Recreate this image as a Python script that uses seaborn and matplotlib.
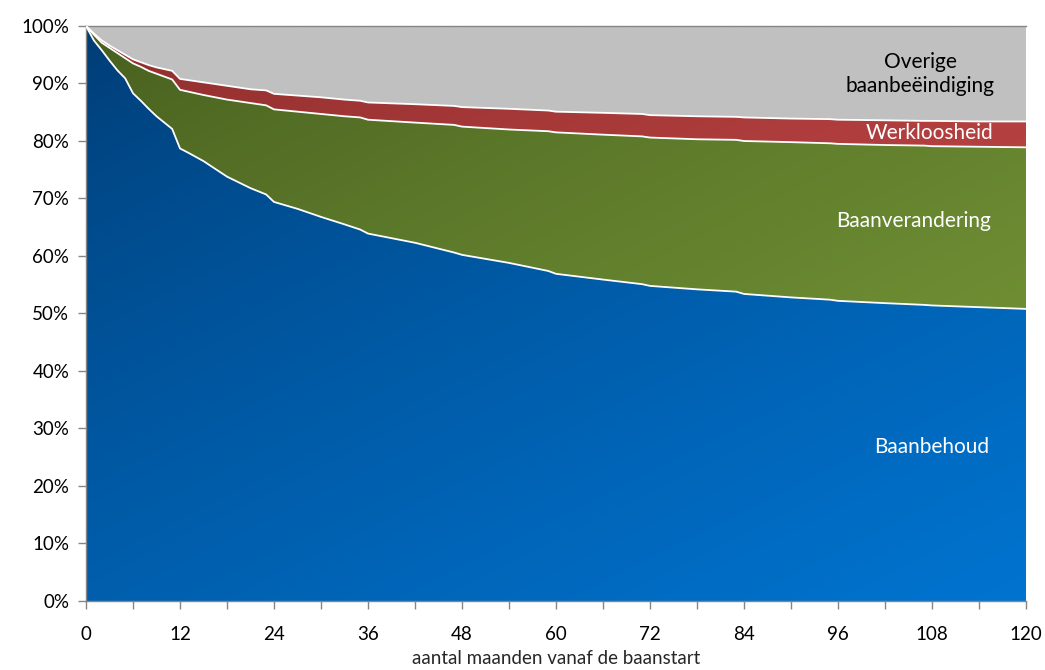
import numpy as np
import pandas as pd
import matplotlib
matplotlib.use("Agg")
import matplotlib.pyplot as plt
from matplotlib.colors import LinearSegmentedColormap
import seaborn as sns

# months since job start
months = [0, 1, 2, 3, 4, 5, 6, 7, 8, 9, 10, 11, 12, 13, 15, 18, 21, 23, 24, 27, 30, 33, 35, 36,
          42, 47, 48, 54, 59, 60, 66, 71, 72, 78, 83, 84, 90, 95, 96, 102, 107, 108, 114, 120]

# shares in % per category
baanbehoud = [100, 97.5, 95.8, 94.0, 92.3, 90.9, 88.3, 87.0, 85.6, 84.3, 83.2, 82.1, 78.7, 78.0,
              76.5, 73.8, 71.8, 70.7, 69.4, 68.2, 66.8, 65.5, 64.6, 63.9, 62.3, 60.6, 60.2, 58.8,
              57.4, 56.9, 55.9, 55.1, 54.8, 54.2, 53.8, 53.4, 52.8, 52.4, 52.2, 51.8, 51.5, 51.4,
              51.1, 50.8]
baanverandering = [0, 1.0, 1.3, 2.2, 3.0, 3.5, 5.2, 5.9, 6.6, 7.4, 8.0, 8.6, 10.2, 10.6, 11.5, 13.4,
                   14.8, 15.5, 16.1, 16.9, 17.9, 18.8, 19.5, 19.8, 20.9, 22.2, 22.3, 23.2, 24.3, 24.6,
                   25.2, 25.7, 25.8, 26.1, 26.4, 26.6, 27.0, 27.2, 27.3, 27.5, 27.7, 27.7, 27.9, 28.1]
werkloosheid = [0, 0.2, 0.4, 0.4, 0.5, 0.6, 0.7, 0.8, 1.0, 1.1, 1.3, 1.5, 1.9, 2.0, 2.2, 2.4, 2.4,
                2.6, 2.7, 2.8, 2.9, 2.9, 2.9, 3.0, 3.2, 3.3, 3.4, 3.6, 3.6, 3.6, 3.8, 3.9, 3.9, 4.0,
                4.0, 4.1, 4.1, 4.2, 4.2, 4.3, 4.3, 4.4, 4.4, 4.5]
overige = [0, 1.3, 2.5, 3.4, 4.2, 5.0, 5.8, 6.3, 6.8, 7.2, 7.5, 7.8, 9.2, 9.4, 9.8, 10.4, 11.0, 11.2,
           11.8, 12.1, 12.4, 12.8, 13.0, 13.3, 13.6, 13.9, 14.1, 14.4, 14.7, 14.9, 15.1, 15.3, 15.5,
           15.7, 15.8, 15.9, 16.1, 16.2, 16.3, 16.4, 16.5, 16.5, 16.6, 16.6]

series = ["Baanbehoud", "Baanverandering", "Werkloosheid", "Overige baanbeëindiging"]
gradients = [("#003c74", "#0074d0"),
             ("#465e1e", "#7a9c3a"),
             ("#8e2c2c", "#cc4c4c"),
             ("#c0c0c0", "#c0c0c0")]

df = pd.DataFrame({"maand": months, series[0]: baanbehoud, series[1]: baanverandering,
                   series[2]: werkloosheid, series[3]: overige})
cum = df[series].cumsum(axis=1)

sns.set_theme(style="white")
plt.rcParams["font.family"] = ["Lato", "DejaVu Sans"]

fig = plt.figure(figsize=(10.45, 6.7), dpi=100)
ax = fig.add_axes([0.0823, 0.103, 0.8995, 0.8582])

# diagonal gradient field (dark top-left -> light bottom-right)
gx, gy = np.meshgrid(np.linspace(0, 1, 300), np.linspace(1, 0, 300))
field = (0.45 * gx + 0.55 * (1 - gy)) ** 0.8

lower = np.zeros(len(months))
for name, (c0, c1) in zip(series, gradients):
    upper = cum[name].values
    poly = ax.fill_between(df["maand"], lower, upper, color="none", lw=0)
    cmap = LinearSegmentedColormap.from_list(name, [c0, c1])
    im = ax.imshow(field, cmap=cmap, extent=[0, 120, 0, 100], aspect="auto",
                   origin="upper", zorder=1)
    im.set_clip_path(poly.get_paths()[0], transform=ax.transData)
    lower = upper

# white separators between layers
for name in series[:3]:
    sns.lineplot(x=df["maand"], y=cum[name], color="white", lw=1.3, ax=ax, zorder=3)

ax.set_xlim(0, 120)
ax.set_ylim(0, 100)
ax.set_xticks(range(0, 121, 12))
ax.set_xticks(range(6, 120, 12), minor=True)
ax.set_yticks(range(0, 101, 10))
ax.set_yticklabels([f"{v}%" for v in range(0, 101, 10)])
ax.tick_params(axis="both", which="both", direction="out", length=6, width=1,
               color="#868686", labelsize=13.5, labelcolor="black")
ax.tick_params(axis="x", which="major", bottom=True, pad=12)
ax.tick_params(axis="x", which="minor", bottom=True)
ax.tick_params(axis="y", left=True, pad=6)

for side in ["left", "bottom", "top"]:
    ax.spines[side].set_color("#868686")
    ax.spines[side].set_linewidth(1)
ax.spines["right"].set_visible(False)

ax.set_xlabel("aantal maanden vanaf de baanstart", fontsize=13.5, labelpad=5)
ax.set_ylabel("")

ax.text(106.5, 91.7, "Overige\nbaanbeëindiging", ha="center", va="center", fontsize=15,
        color="black", linespacing=1.25, zorder=4)
ax.text(107.7, 81.4, "Werkloosheid", ha="center", va="center", fontsize=15, color="white", zorder=4)
ax.text(105.6, 66.1, "Baanverandering", ha="center", va="center", fontsize=15, color="white", zorder=4)
ax.text(108.0, 26.8, "Baanbehoud", ha="center", va="center", fontsize=15, color="white", zorder=4)

fig.savefig("out.png", dpi=100)
